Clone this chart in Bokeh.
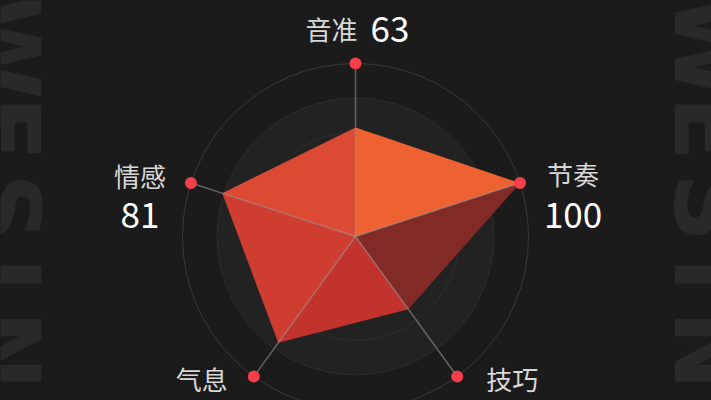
import numpy as np
from bokeh.plotting import figure
from bokeh.models import ColumnDataSource, Range1d
from bokeh.core.properties import value
from bokeh.embed import file_html
from bokeh.resources import INLINE

# ---- data ----
categories = ["音准", "节奏", "技巧", "气息", "情感"]
scores = [63, 100, 52, 76, 81]
shown_scores = ["63", "100", "", "", "81"]
max_score = 100
ring_levels = [20, 40, 60, 80, 100]
watermark_letters = ["W", "E", "S", "I", "N"]

# ---- style / layout ----
BG = "#1b1b1b"
W, H = 711, 400
R = 173.0
CJK = "Noto Sans CJK SC"
sector_colors = ["#ee6232", "#8a2b27", "#c2332d", "#cf3c30", "#dc4a34"]
sector_alpha = [1.0, 0.92, 1.0, 1.0, 1.0]

p = figure(width=W, height=H, x_range=Range1d(-355, 356), y_range=Range1d(-164, 236),
           output_backend="svg", toolbar_location=None,
           x_axis_location=None, y_axis_location=None, min_border=0,
           background_fill_color=BG, border_fill_color=BG, outline_line_color=None)
p.grid.grid_line_color = None

# watermark (rotated letters on both edges, partly cut by the frame)
wm_y = [190, 108, 29, -38, -114]
for bx in (-352, 352):
    src = ColumnDataSource(dict(x=[bx] * len(watermark_letters), y=wm_y, t=watermark_letters))
    p.text(x="x", y="y", text="t", source=src, angle=-np.pi / 2,
           text_align="center", text_baseline="middle",
           text_font=value("DejaVu Sans"), text_font_style="bold",
           text_font_size="96px", text_color="#292929")

# background disk and rings
p.circle(x=0, y=0, radius=R * 0.8, fill_color="#222222", line_color=None)
for lv in ring_levels:
    col = "#3a3a3a" if lv == max_score else "#2e2e2e"
    p.circle(x=0, y=0, radius=R * lv / max_score, fill_color=None,
             line_color=col, line_width=1)

n = len(categories)
theta = np.pi / 2 - 2 * np.pi * np.arange(n) / n
r = np.array(scores) / max_score * R
vx, vy = r * np.cos(theta), r * np.sin(theta)
ox, oy = R * np.cos(theta), R * np.sin(theta)

# polygon sectors
xs, ys = [], []
for i in range(n):
    j = (i + 1) % n
    xs.append([0, vx[i], vx[j]])
    ys.append([0, vy[i], vy[j]])
p.patches(xs=xs, ys=ys, fill_color=sector_colors, fill_alpha=sector_alpha, line_color=None)

# axis lines
p.segment(x0=[0] * n, y0=[0] * n, x1=ox, y1=oy, line_color="#a8a8a8", line_alpha=0.5, line_width=1.5)

# outer dots
p.scatter(x=ox, y=oy, size=12, fill_color="#f43f4a", line_color=None)

# labels
name_dx = [2, 53, 29, -26, -51]
name_dy = [35, 10, -2, -2, 8]
name_align = ["right", "center", "left", "right", "center"]
val_dx = [15, 53, 0, 0, -51]
val_dy = [35, -32, 0, 0, -32]
val_align = ["left", "center", "left", "left", "center"]

name_src = ColumnDataSource(dict(x=ox + np.array(name_dx), y=oy + np.array(name_dy),
                                 t=categories, a=name_align))
p.text(x="x", y="y", text="t", text_align="a", source=name_src, text_baseline="middle",
       text_font=value(CJK), text_font_size="26px", text_color="#d8d8d8")

vi = [i for i in range(n) if shown_scores[i]]
val_src = ColumnDataSource(dict(x=[ox[i] + val_dx[i] for i in vi], y=[oy[i] + val_dy[i] for i in vi],
                                t=[shown_scores[i] for i in vi], a=[val_align[i] for i in vi]))
p.text(x="x", y="y", text="t", text_align="a", source=val_src, text_baseline="middle",
       text_font=value(CJK), text_font_size="35px", text_color="#ffffff")

html = file_html(p, INLINE)
html = html.replace("</head>", "<style>html,body{background:#1b1b1b;}</style></head>", 1)
open("out.html", "w").write(html)
